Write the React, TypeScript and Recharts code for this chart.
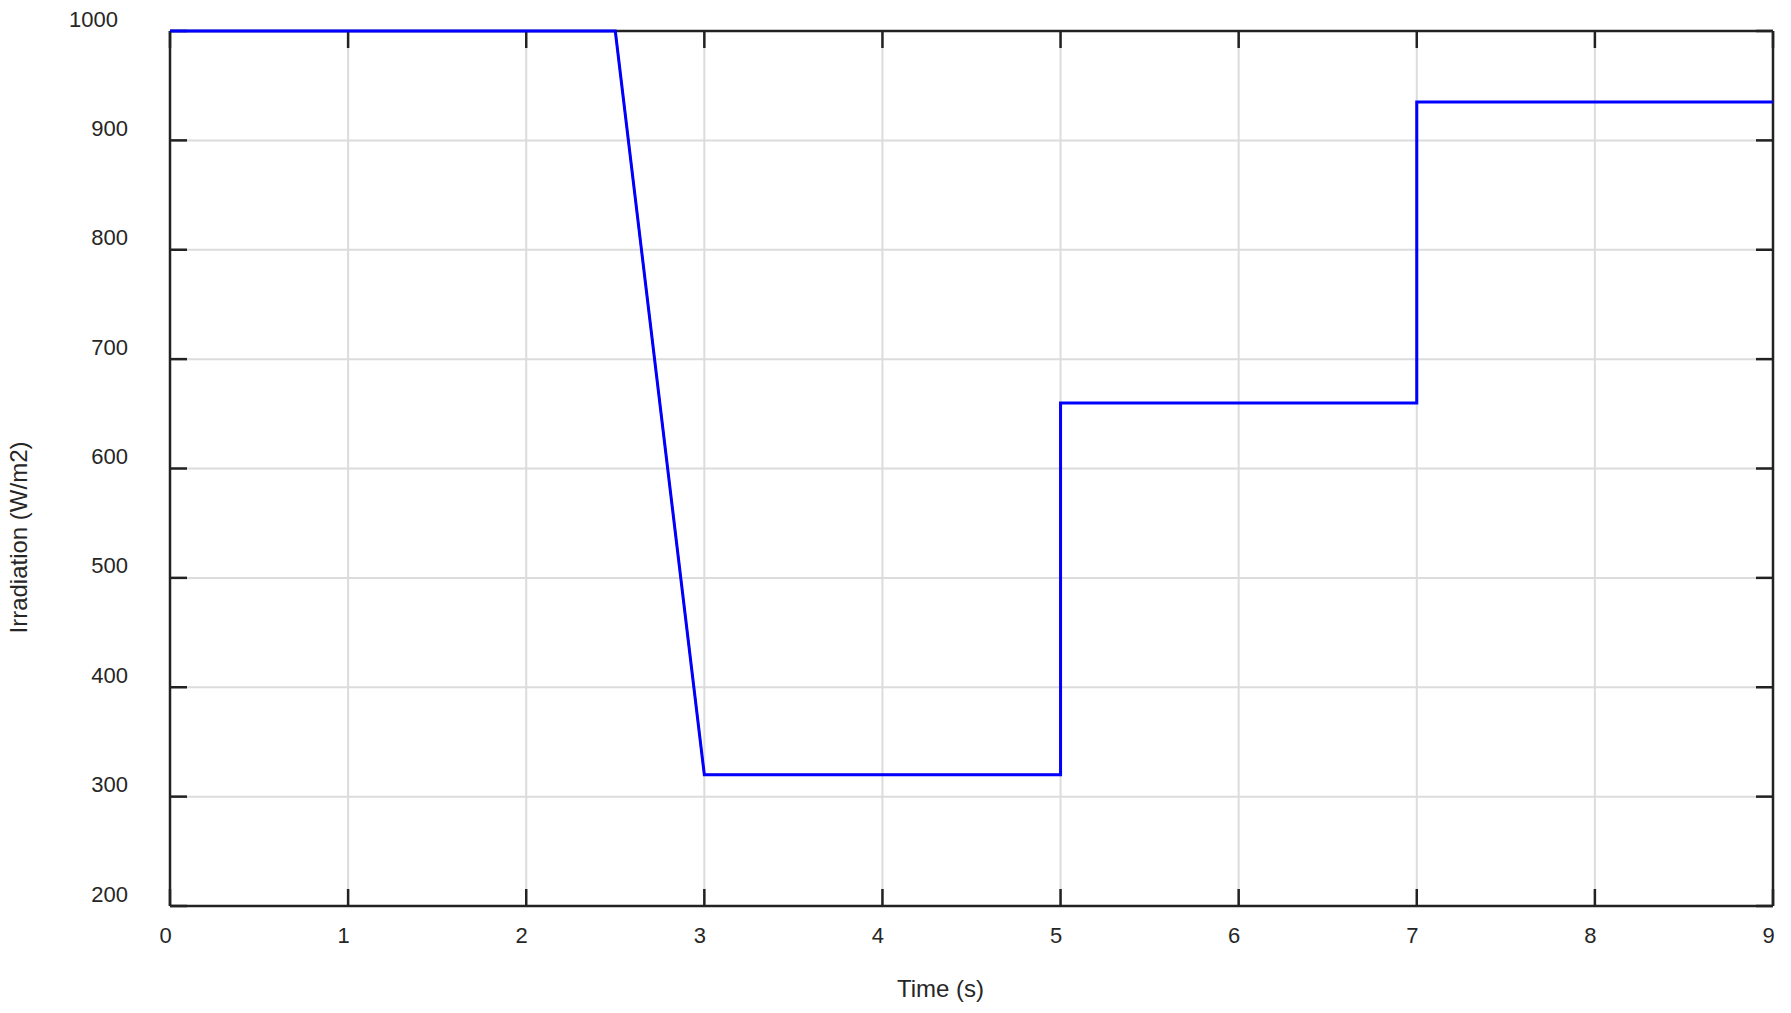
import { CartesianGrid, Line, LineChart, XAxis, YAxis } from "recharts";

// irradiation profile
const timeS = [0, 2.5, 3, 5, 5, 7, 7, 9];
const irradiation = [1000, 1000, 320, 320, 660, 660, 935, 935];

const xTicks = [0, 1, 2, 3, 4, 5, 6, 7, 8, 9];
const yTicks = [200, 300, 400, 500, 600, 700, 800, 900, 1000];

const data = timeS.map((t, i) => ({ t, g: irradiation[i] }));

const FONT = '"Liberation Sans", Arial, sans-serif';
const AXIS = "#222222";
const TEXT = "#262626";

const EmptyTick = () => <g />;

// y labels sit a bit above their tick; the 4-digit one is pushed further left
const YTick = ({ x, y, payload }: any) => (
  <text
    x={x - (String(payload.value).length > 3 ? 10 : 0)}
    y={y - 12}
    textAnchor="end"
    dominantBaseline="central"
    fill={TEXT}
    fontSize={22}
    fontFamily={FONT}
  >
    {payload.value}
  </text>
);

export default function App() {
  return (
    <div style={{ position: "absolute", left: 0, top: 0, background: "#fff" }}>
      <LineChart
        width={1791}
        height={1013}
        data={data}
        margin={{ top: 30, right: 17, left: 0, bottom: 7 }}
        style={{ fontFamily: FONT }}
      >
        <CartesianGrid stroke="#dcdcdc" strokeWidth={2} />
        <XAxis
          dataKey="t"
          type="number"
          domain={[0, 9]}
          ticks={xTicks}
          height={100}
          stroke={AXIS}
          strokeWidth={2.5}
          tickSize={-17}
          tickMargin={38}
          tick={{ fill: TEXT, fontSize: 22, dx: -4.5 }}
          label={{
            value: "Time (s)",
            position: "center",
            dx: -31,
            dy: 32,
            fill: TEXT,
            fontSize: 24,
          }}
        />
        <XAxis
          xAxisId="top"
          dataKey="t"
          orientation="top"
          type="number"
          domain={[0, 9]}
          ticks={xTicks}
          height={1}
          stroke={AXIS}
          strokeWidth={2.5}
          tickSize={-17}
          tick={EmptyTick}
        />
        <YAxis
          type="number"
          domain={[200, 1000]}
          ticks={yTicks}
          width={170}
          stroke={AXIS}
          strokeWidth={2.5}
          tickSize={-17}
          tickMargin={59}
          tick={YTick}
          label={{
            value: "Irradiation (W/m2)",
            angle: -90,
            position: "center",
            dx: -67,
            dy: 69,
            fill: TEXT,
            fontSize: 24,
          }}
        />
        <YAxis
          yAxisId="right"
          orientation="right"
          type="number"
          domain={[200, 1000]}
          ticks={yTicks}
          width={1}
          stroke={AXIS}
          strokeWidth={2.5}
          tickSize={-17}
          tick={EmptyTick}
        />
        <Line
          xAxisId="top"
          yAxisId="right"
          type="linear"
          dataKey="g"
          stroke="#ff0000"
          strokeWidth={2}
          dot={false}
          isAnimationActive={false}
          zIndex={900}
        />
        <Line
          type="linear"
          dataKey="g"
          stroke="#0000ff"
          strokeWidth={3}
          dot={false}
          isAnimationActive={false}
          zIndex={1000}
        />
      </LineChart>
    </div>
  );
}
